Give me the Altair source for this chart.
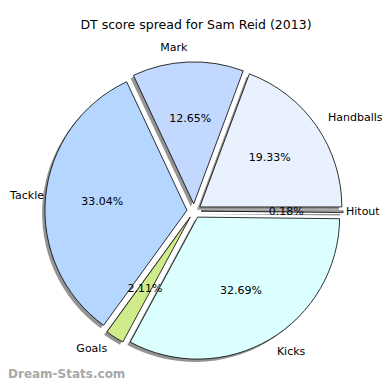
import math
import altair as alt
import pandas as pd

# ---- data ----
labels = ["Handballs", "Mark", "Tackle", "Goals", "Kicks", "Hitout"]  # counter-clockwise from 3 o'clock
values = [19.33, 12.65, 33.04, 2.11, 32.69, 0.18]
colors = ["#e9f1ff", "#c3d8ff", "#b4d6ff", "#d0eb8a", "#dbffff", "#ffffff"]
title_text = "DT score spread for Sam Reid (2013)"
watermark = "Dream-Stats.com"

# ---- layout ----
W, H = 374, 374
R = 142.0            # pie radius in px (1 data unit)
CX, CY = 186.0, 203.0  # pie centre in chart px
EXPLODE = 0.05
SHADOW = 0.02
FS = 11
CHARW = 6.0 / R      # rough label character width in data units

xdom = [-CX / R, (W - CX) / R]
ydom = [-(H - CY) / R, CY / R]

df = pd.DataFrame({"label": labels, "value": values, "idx": list(range(len(labels)))})

base = alt.Chart(df).transform_joinaggregate(
    total="sum(value)"
).transform_window(
    cum="sum(value)", sort=[alt.SortField("idx")], frame=[None, 0]
).transform_calculate(
    a0="(datum.cum - datum.value) / datum.total * 2 * PI",
    a1="datum.cum / datum.total * 2 * PI",
).transform_calculate(
    mid="(datum.a0 + datum.a1) / 2",
    t0="PI / 2 - datum.a1",
    t1="PI / 2 - datum.a0",
    pct="format(datum.value / datum.total * 100, '.2f') + '%'",
).transform_calculate(
    ex=f"{EXPLODE} * cos(datum.mid)",
    ey=f"{EXPLODE} * sin(datum.mid)",
).transform_calculate(
    sx=f"datum.ex - {SHADOW}",
    sy=f"datum.ey - {SHADOW}",
    lx0="datum.ex + 1.1 * cos(datum.mid)",
    ly="datum.ey + 1.1 * sin(datum.mid)",
    px="datum.ex + 0.6 * cos(datum.mid)",
    py="datum.ey + 0.6 * sin(datum.mid)",
    side="cos(datum.mid) < 0 ? 'L' : 'R'",
    lw=f"length(datum.label) * {CHARW}",
).transform_calculate(
    # keep labels inside the drawable area
    lx=f"datum.side == 'L' ? max(datum.lx0, {xdom[0]} + datum.lw) : min(datum.lx0, {xdom[1]} - datum.lw)",
)

xs = alt.Scale(domain=xdom, nice=False, zero=False)
ys = alt.Scale(domain=ydom, nice=False, zero=False)

shadow = base.mark_arc(radius=R, fill="#000000", fillOpacity=0.42, stroke=None).encode(
    x=alt.X("sx:Q", scale=xs, axis=None),
    y=alt.Y("sy:Q", scale=ys, axis=None),
    theta=alt.Theta("t0:Q", scale=None, stack=None),
    theta2="t1:Q",
)

wedges = base.mark_arc(radius=R, stroke="black", strokeWidth=0.8).encode(
    x=alt.X("ex:Q", scale=xs, axis=None),
    y=alt.Y("ey:Q", scale=ys, axis=None),
    theta=alt.Theta("t0:Q", scale=None, stack=None),
    theta2="t1:Q",
    color=alt.Color("label:N", scale=alt.Scale(domain=labels, range=colors), legend=None),
)

font = "DejaVu Sans"
lab_left = base.transform_filter("datum.side == 'L'").mark_text(
    align="right", baseline="middle", font=font, fontSize=FS, color="black"
).encode(x=alt.X("lx:Q", scale=xs, axis=None), y=alt.Y("ly:Q", scale=ys, axis=None), text="label:N")

lab_right = base.transform_filter("datum.side == 'R'").mark_text(
    align="left", baseline="middle", font=font, fontSize=FS, color="black"
).encode(x=alt.X("lx:Q", scale=xs, axis=None), y=alt.Y("ly:Q", scale=ys, axis=None), text="label:N")

pcts = base.mark_text(
    align="center", baseline="middle", font=font, fontSize=FS, color="black"
).encode(x=alt.X("px:Q", scale=xs, axis=None), y=alt.Y("py:Q", scale=ys, axis=None), text="pct:N")

title = alt.Chart(pd.DataFrame({"t": [title_text]})).mark_text(
    align="center", baseline="middle", font=font, fontSize=12.5, color="black"
).encode(x=alt.value(W / 2 + 1), y=alt.value(17), text="t:N")

wm = alt.Chart(pd.DataFrame({"t": [watermark]})).mark_text(
    align="left", baseline="bottom", font=font, fontSize=12, fontWeight="bold", color="#a8a8a8"
).encode(x=alt.value(0), y=alt.value(H - 1), text="t:N")

chart = alt.layer(shadow, wedges, lab_left, lab_right, pcts, title, wm).properties(
    width=W, height=H, padding=0, autosize="none"
).configure_view(stroke=None)

chart.save("out.html", embed_options={"renderer": "svg", "actions": False})
